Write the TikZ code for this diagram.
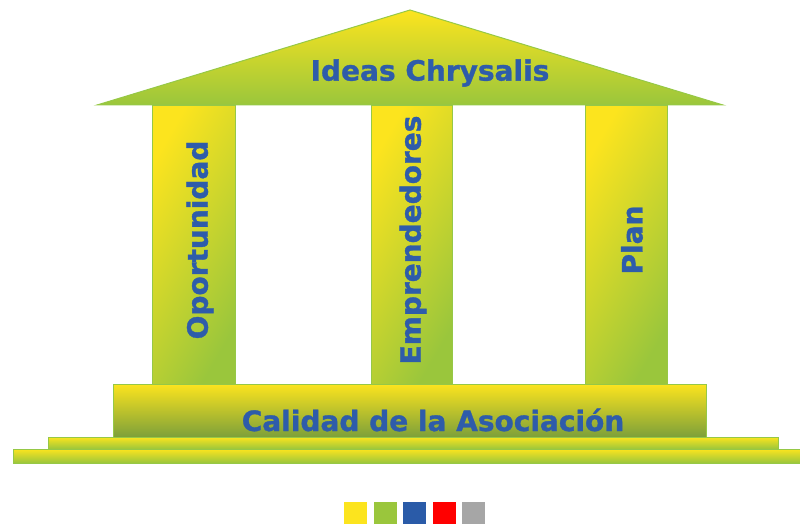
\documentclass[tikz,border=0pt]{standalone}
\usepackage{fontspec}
\newfontfamily\templefont[FakeBold=1.2]{DejaVu Sans Bold}
\definecolor{ylw}{RGB}{252,228,30}
\definecolor{grn}{RGB}{154,198,60}
\definecolor{olv}{RGB}{125,160,58}
\definecolor{edge}{RGB}{150,200,70}
\definecolor{txt}{RGB}{46,92,170}
\definecolor{lblue}{RGB}{42,91,168}
\definecolor{lred}{RGB}{255,0,0}
\definecolor{lgray}{RGB}{166,166,166}
\tikzset{
  roofshape/.style={draw=edge,line width=1pt,top color=ylw,bottom color=grn},
  colbox/.style={draw=edge,line width=1pt,shading=axis,left color=ylw,right color=grn,shading angle=60},
  platbox/.style={draw=edge,line width=1pt,top color=ylw,bottom color=olv},
  stepbar/.style={draw=edge,line width=1pt,top color=ylw,bottom color=grn},
  lbl/.style={font=\templefont\fontsize{28}{30}\selectfont,text=txt,inner sep=0pt},
  vlbl/.style={lbl,rotate=90},
  legsq/.style={draw=none,minimum width=23pt,minimum height=22pt,inner sep=0pt,anchor=north west}
}
\begin{document}
\begin{tikzpicture}[x=1pt,y=-1pt]
\useasboundingbox (0,0) rectangle (800,524);
% roof
\path[roofshape] (97,105) -- (410,10) -- (723,105) -- cycle;
\node[lbl] (roof) at (430,73) {Ideas Chrysalis};
% columns
\path[colbox] (152,106) rectangle (235,384);
\path[colbox] (371,106) rectangle (452,384);
\path[colbox] (585,106) rectangle (667,384);
\node[vlbl] (c1) at (200,240) {Oportunidad};
\node[vlbl] (c2) at (413,240) {Emprendedores};
\node[vlbl] (c3) at (632,240) {Plan};
% platform and steps
\path[platbox] (113,384) rectangle (706,437);
\node[lbl] (base) at (433,420) {Calidad de la Asociación};
\path[stepbar] (48,437) rectangle (778,449);
\path[stepbar] (13,449) rectangle (801,463);
% legend
\node[legsq,fill=ylw] (k1) at (344,502) {};
\node[legsq,fill=grn] (k2) at (374,502) {};
\node[legsq,fill=lblue] (k3) at (403,502) {};
\node[legsq,fill=lred] (k4) at (433,502) {};
\node[legsq,fill=lgray] (k5) at (462,502) {};
\end{tikzpicture}
\end{document}
